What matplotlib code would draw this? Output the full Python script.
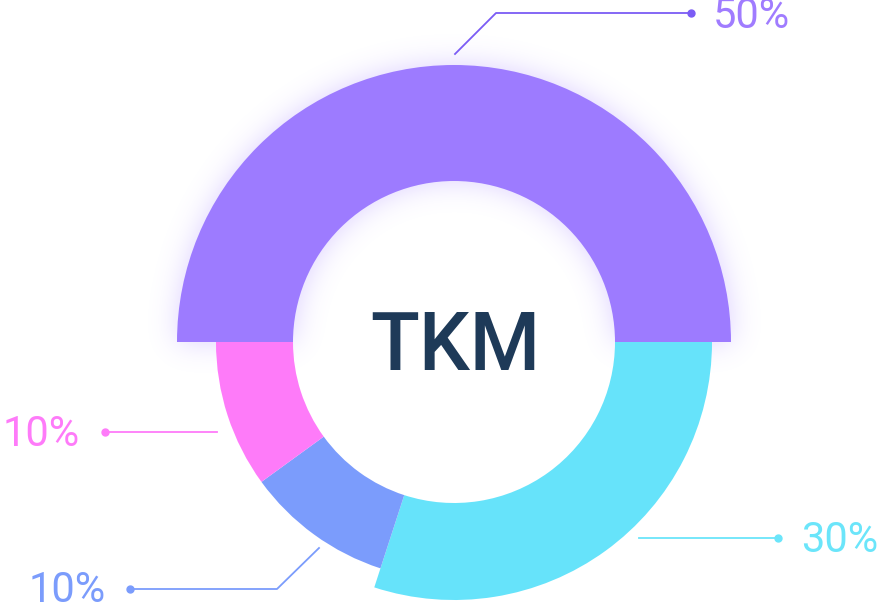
import numpy as np
import matplotlib.pyplot as plt
from matplotlib.patches import Wedge

# share of each slice, going clockwise from the top half
labels = ['50%', '30%', '10%', '10%']
shares = [50, 30, 10, 10]
colors = ['#9d7bff', '#66e3fa', '#7b9cfc', '#fe7bf9']
text_colors = ['#a07cff', '#6be5fa', '#7b9cfc', '#fe7bf9']
line_colors = ['#7b5cf5', '#6be5fa', '#7b9cfc', '#fe7bf9']
outer_r = [277, 258, 238, 238]   # pixel radii (style)
inner_r = 161
cx, cy = 454, 604 - 342

fig = plt.figure(figsize=(8.84, 6.04), dpi=100)
ax = fig.add_axes([0, 0, 1, 1])
ax.set_xlim(0, 884)
ax.set_ylim(0, 604)
ax.set_aspect('equal')
ax.axis('off')

# angles: first slice covers the top half (0..180), rest go clockwise from 0
angles = []
start = 180.0
for s in shares:
    span = s / 100 * 360
    angles.append((start - span, start))
    start = start - span

# soft glow under the purple slice
xx, yy = np.meshgrid(np.arange(884), np.arange(604))
rr = np.hypot(xx - cx, yy - cy)
mask = ((rr <= outer_r[0]) & (rr >= inner_r) & (yy >= cy)).astype(float)
k = np.exp(-0.5 * (np.arange(-40, 41) / 14.0) ** 2)
k /= k.sum()
blur = np.apply_along_axis(lambda m: np.convolve(m, k, mode='same'), 0, mask)
blur = np.apply_along_axis(lambda m: np.convolve(m, k, mode='same'), 1, blur)
glow = np.zeros((604, 884, 4))
glow[..., :3] = np.array([157, 123, 255]) / 255
glow[..., 3] = blur * 0.35
ax.imshow(glow, origin='lower', extent=(0, 884, 0, 604), zorder=1)

for (a0, a1), r, c in zip(angles, outer_r, colors):
    ax.add_patch(Wedge((cx, cy), r, a0 % 360, a1 % 360 if a1 % 360 else 360,
                       width=r - inner_r, facecolor=c, edgecolor='none', zorder=2))

# leader lines: (points of polyline), text position
leaders = [
    ([(455, 604 - 54), (496, 604 - 13), (691, 604 - 13)], (713, 604 - 17), 'left'),
    ([(639, 604 - 538), (778, 604 - 538)], (801, 604 - 540), 'left'),
    ([(319, 604 - 548), (277, 604 - 589), (130, 604 - 589)], (106, 604 - 590), 'right'),
    ([(217, 604 - 432), (105, 604 - 432)], (80, 604 - 434), 'right'),
]
for (pts, tpos, ha), lab, lc, tc in zip(leaders, labels, line_colors, text_colors):
    px = [p[0] for p in pts]
    py = [p[1] for p in pts]
    ax.plot(px, py, color=lc, linewidth=1.3, zorder=3)
    ax.plot(px[-1], py[-1], 'o', color=lc, markersize=5, zorder=3)
    ax.text(tpos[0], tpos[1], lab, color=tc, fontsize=30, ha=ha, va='center',
            family='Roboto', fontweight='normal')

ax.text(cx + 1, 604 - 348, 'TKM', color='#1e3a58', fontsize=58, ha='center', va='center',
        family='Roboto', fontweight='medium')

fig.savefig('out.png', dpi=100)
